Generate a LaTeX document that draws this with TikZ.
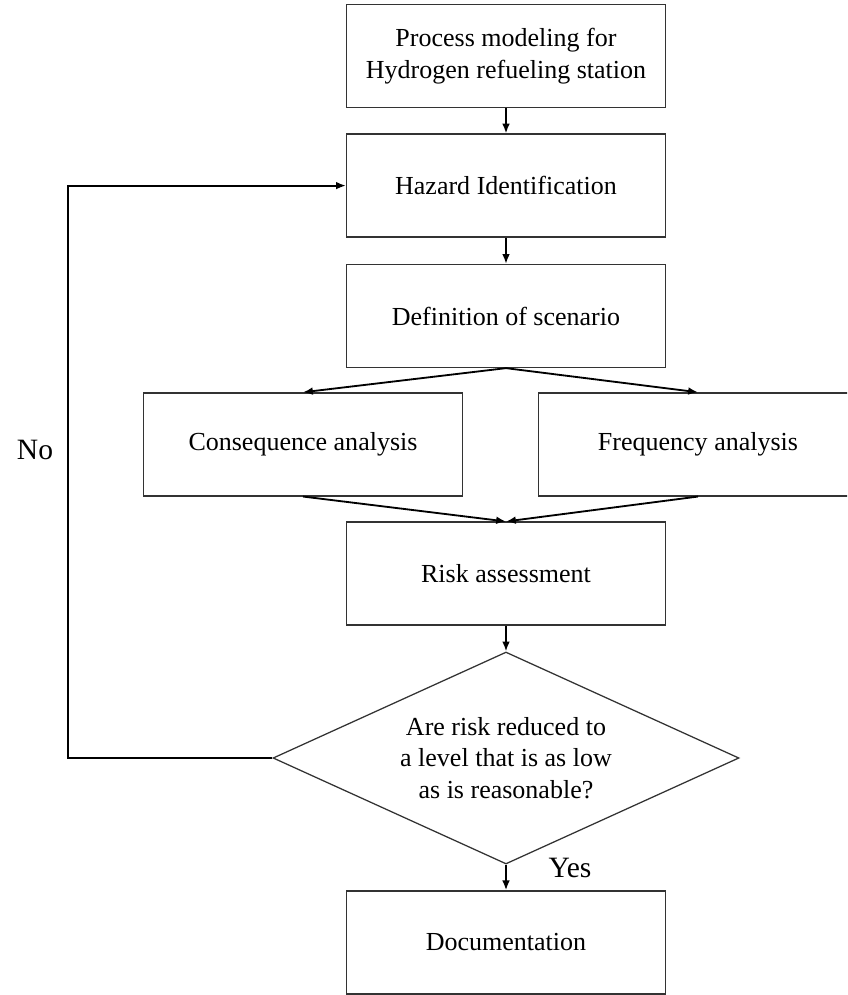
\documentclass[tikz,border=0pt]{standalone}
\usepackage{fontspec}
\setmainfont{Liberation Serif}
\usepackage{tikz}
\usetikzlibrary{shapes.geometric, arrows.meta, positioning, calc}

\tikzset{
  box/.style={draw=black!80, line width=0.9pt, minimum width=7.975cm, minimum height=2.575cm, align=center, font=\fontsize{18.5}{22.3}\selectfont},
  decision/.style={diamond, aspect=2.2, draw=black!80, line width=0.9pt, minimum width=11.65cm, minimum height=5.3cm, inner sep=0pt, align=center, font=\fontsize{18.5}{22.3}\selectfont},
  flow/.style={line width=1.3pt, -{Latex[length=7pt,width=5.5pt]}},
  answer/.style={font=\fontsize{21}{25}\selectfont}
}

\begin{document}
\begin{tikzpicture}
\useasboundingbox (0,0) rectangle (21.175,-24.875);
\clip (0,0) rectangle (21.175,-24.875);

% Main chain
\node[box] (proc) at (12.65,-1.4) {Process modeling for\\Hydrogen refueling station};
\node[box] (hazard) at (12.65,-4.64) {Hazard Identification};
\node[box] (scen) at (12.65,-7.9) {Definition of scenario};

% Two analyses
\node[box] (conseq) at (7.575,-11.11) {Consequence analysis};
\node[box] (freq) at (17.45,-11.11) {Frequency analysis};

\node[box] (risk) at (12.65,-14.34) {Risk assessment};
\node[decision] (alarp) at (12.65,-18.95) {Are risk reduced to\\a level that is as low\\as is reasonable?};
\node[box] (doc) at (12.65,-23.56) {Documentation};

% Connectors
\draw[flow] (proc) -- (hazard);
\draw[flow] (hazard) -- (scen);
\draw[flow] (scen.south) -- (conseq.north);
\draw[flow] (scen.south) -- (freq.north);
\draw[flow] (conseq.south) -- (risk.north);
\draw[flow] (freq.south) -- (risk.north);
\draw[flow] (risk) -- (alarp);
\draw[flow] (alarp) -- (doc);

% Loop back
\coordinate (back) at (1.7,-4.64);
\draw[flow] (alarp.west) -| (back) -- (hazard.west);

\node[answer] (no) at (0.875,-11.25) {No};
\node[answer] (yes) at (14.25,-21.7) {Yes};
\end{tikzpicture}
\end{document}
